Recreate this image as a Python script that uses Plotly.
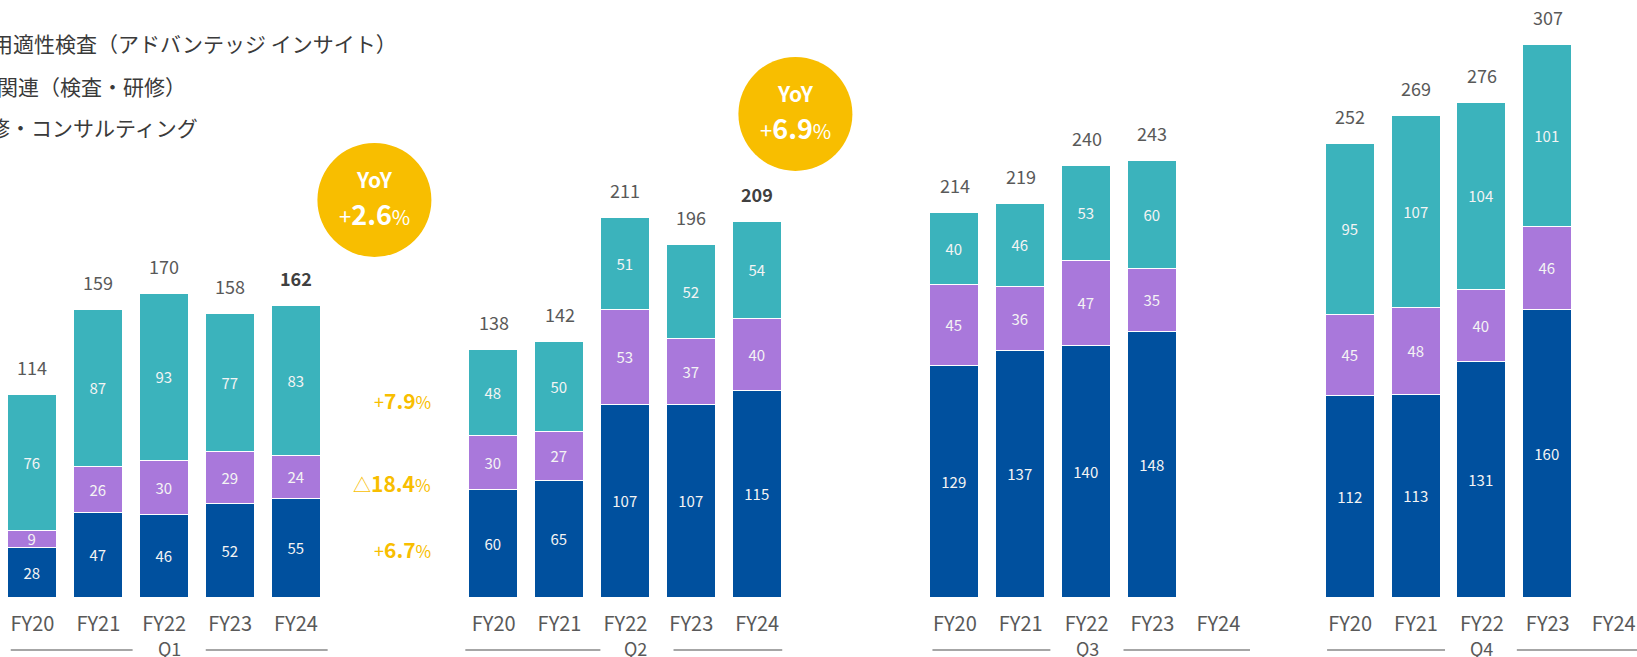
import plotly.graph_objects as go

# ---------------- data ----------------
fy_labels = ["FY20", "FY21", "FY22", "FY23", "FY24"]
quarters = ["Q1", "Q2", "Q3", "Q4"]
group_start = [0, 7, 14, 20]          # slot index of FY20 in each quarter group

blue_vals = [28, 47, 46, 52, 55, 60, 65, 107, 107, 115, 129, 137, 140, 148, None, 112, 113, 131, 160, None]
purple_vals = [9, 26, 30, 29, 24, 30, 27, 53, 37, 40, 45, 36, 47, 35, None, 45, 48, 40, 46, None]
teal_vals = [76, 87, 93, 77, 83, 48, 50, 51, 52, 54, 40, 46, 53, 60, None, 95, 107, 104, 101, None]
totals = [114, 159, 170, 158, 162, 138, 142, 211, 196, 209, 214, 219, 240, 243, None, 252, 269, 276, 307, None]
bold_totals = [False, False, False, False, True, False, False, False, False, True,
               False, False, False, False, False, False, False, False, False, False]

legend_labels = ["用適性検査（アドバンテッジ インサイト）", "関連（検査・研修）", "修・コンサルティング"]

yoy_labels = ["2.6", "6.9"]
seg_change_labels = [("+", "7.9"), ("△", "18.4"), ("+", "6.7")]

# ---------------- styling ----------------
C_BLUE = "#00509E"
C_PURPLE = "#A978DB"
C_TEAL = "#3BB3BC"
C_YELLOW = "#F8BE00"
C_TEXT = "#595959"
FONT = "Noto Sans CJK JP"

W, H = 1637, 657
X0, X1 = -0.493, 24.354
Y0, Y1 = 0, 332.2

xs = [g + i for g in group_start for i in range(5)]

fig = go.Figure()


def seg_text(vals):
    return ["" if v is None else str(v) for v in vals]


for name, vals, col in [(legend_labels[2], blue_vals, C_BLUE),
                        (legend_labels[1], purple_vals, C_PURPLE),
                        (legend_labels[0], teal_vals, C_TEAL)]:
    fig.add_trace(go.Bar(
        x=xs, y=vals, name=name, width=0.744,
        marker=dict(color=col, line=dict(color="white", width=1.5)),
        text=seg_text(vals), textposition="inside", insidetextanchor="middle",
        textangle=0, constraintext="none",
        textfont=dict(family=FONT, size=15, color="#F4F4F4"),
        hoverinfo="skip", showlegend=False,
    ))

annotations = []
# totals above bars
for x, b, p, t, tot, bold in zip(xs, blue_vals, purple_vals, teal_vals, totals, bold_totals):
    if tot is None:
        continue
    top = b + p + t
    annotations.append(dict(
        x=x, y=top, xref="x", yref="y", yshift=28, yanchor="middle",
        text=f"<b>{tot}</b>" if bold else str(tot), showarrow=False,
        font=dict(family=FONT, size=18, color="#404040" if bold else C_TEXT)))

# quarter group labels + rules under tick labels
q_label_x = [2.08, 9.15, 16.02, 21.99]
q_rule_segments = [[(-0.33, 1.52), (2.63, 4.48)],
                   [(6.57, 8.62), (9.73, 11.38)],
                   [(13.66, 15.45), (16.56, 18.48)],
                   [(19.65, 21.44), (22.53, 24.354)]]
plot_h = H - 59
q_y_paper = -(650 - plot_h) / plot_h

shapes = []
for q, lx, segs in zip(quarters, q_label_x, q_rule_segments):
    annotations.append(dict(x=lx, y=q_y_paper, xref="x", yref="paper", text=q,
                            showarrow=False, yanchor="middle", yshift=2,
                            font=dict(family=FONT, size=18, color=C_TEXT)))
    for a, b in segs:
        shapes.append(dict(type="line", xref="paper", yref="paper",
                           x0=(a - X0) / (X1 - X0), x1=(b - X0) / (X1 - X0),
                           y0=q_y_paper, y1=q_y_paper,
                           line=dict(color="#A6A6A6", width=1.8)))

# YoY circles
circle_pos = [(5.19, 221.1), (11.58, 268.9)]
for (cx, cy), lab in zip(circle_pos, yoy_labels):
    shapes.append(dict(type="circle", xref="x", yref="y", xsizemode="pixel", ysizemode="pixel",
                       xanchor=cx, yanchor=cy, x0=-57, x1=57, y0=-57, y1=57,
                       fillcolor=C_YELLOW, line=dict(width=0), layer="above"))
    annotations.append(dict(x=cx, y=cy, xref="x", yref="y", yshift=21, showarrow=False,
                            text="<b>YoY</b>", font=dict(family=FONT, size=21, color="white")))
    annotations.append(dict(x=cx, y=cy, xref="x", yref="y", yshift=-14, showarrow=False,
                            text=f"<span style='font-size:22px'>+</span><b>{lab}</b><span style='font-size:20px'>%</span>",
                            font=dict(family=FONT, size=27, color="white")))

# segment YoY changes (Q1)
seg_change_y = [109.8, 63.7, 27.1]
for (sign, val), y in zip(seg_change_labels, seg_change_y):
    annotations.append(dict(x=6.085, y=y, xref="x", yref="y", xanchor="right", showarrow=False,
                            text=f"<span style='font-size:18px'>{sign}</span><b>{val}</b><span style='font-size:17px'>%</span>",
                            font=dict(family=FONT, size=21, color=C_YELLOW)))

# legend texts (markers lie outside the visible canvas)
legend_right_px = [399, 188, 200]
legend_y_px = [43, 86, 127]
for t, rx, ly in zip(legend_labels, legend_right_px, legend_y_px):
    annotations.append(dict(x=rx / W, y=1 - ly / plot_h, xref="paper", yref="paper",
                            xanchor="right", yanchor="middle", showarrow=False, text=t,
                            font=dict(family=FONT, size=21, color="#3A3A3A")))

fig.update_layout(
    width=W, height=H, barmode="stack", bargap=0,
    margin=dict(l=0, r=0, t=0, b=59),
    paper_bgcolor="white", plot_bgcolor="white",
    showlegend=False,
    xaxis=dict(range=[X0, X1], tickmode="array", tickvals=xs, ticktext=fy_labels * 4,
               showgrid=False, zeroline=False, showline=False, ticks="",
               ticklabelstandoff=12,
               tickfont=dict(family=FONT, size=20, color=C_TEXT)),
    yaxis=dict(range=[Y0, Y1], visible=False, showgrid=False, zeroline=False),
    annotations=annotations, shapes=shapes,
)

fig.write_html("out.html", config={"displayModeBar": False},
               post_script="document.body.style.margin='0px';document.body.style.overflow='hidden';")
